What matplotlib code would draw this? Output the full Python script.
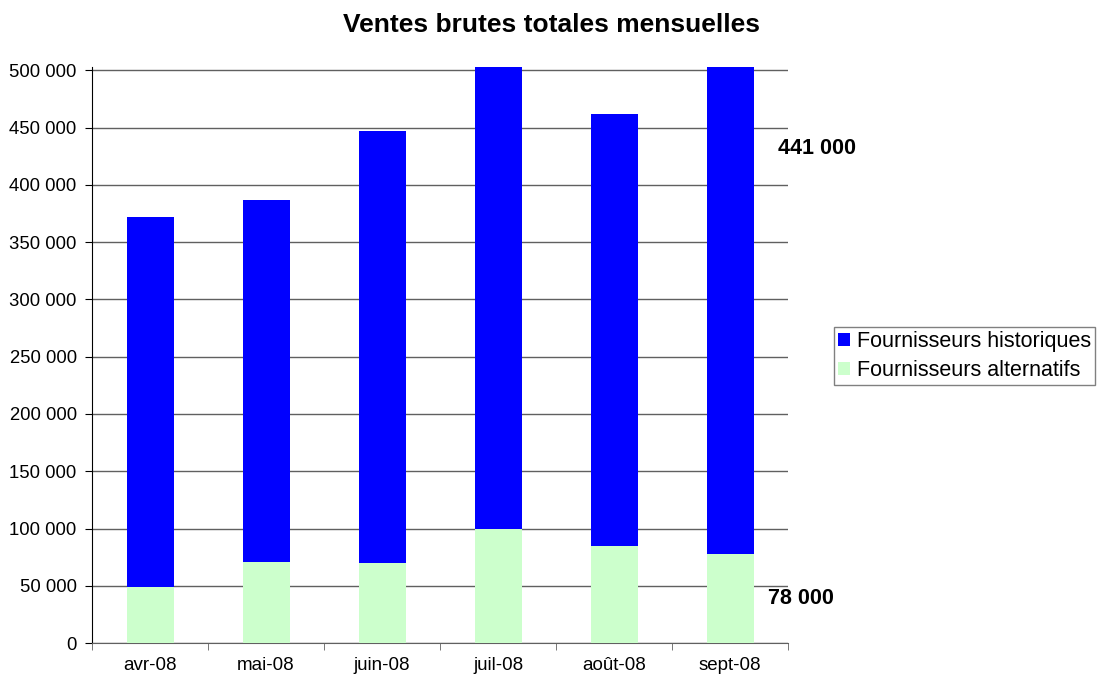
import matplotlib
matplotlib.use("Agg")
import matplotlib.pyplot as plt
from matplotlib.ticker import FuncFormatter

plt.rcParams['font.family'] = ['Liberation Sans', 'DejaVu Sans']

mois = ['avr-08', 'mai-08', 'juin-08', 'juil-08', 'août-08', 'sept-08']
alternatifs = [49000, 71000, 70000, 100000, 85000, 78000]
historiques = [323000, 316000, 377000, 420000, 377000, 441000]

fmt = lambda v: f"{int(v):,}".replace(',', ' ')

fig = plt.figure(figsize=(10.99, 6.77), dpi=100)
ax = fig.add_axes([0.0837, 0.0502, 0.6335, 0.8508])

x = range(len(mois))
w = 0.405
b1 = ax.bar(x, alternatifs, width=w, color='#CCFFCC', zorder=3,
            label='Fournisseurs alternatifs')
b2 = ax.bar(x, historiques, width=w, bottom=alternatifs, color='#0000FF',
            zorder=3, label='Fournisseurs historiques')

ax.set_xlim(-0.5, len(mois) - 0.5)
ax.set_ylim(0, 503000)
ax.set_yticks(range(0, 500001, 50000))
ax.yaxis.set_major_formatter(FuncFormatter(lambda v, p: fmt(v)))
ax.yaxis.grid(True, color='#606060', lw=1, zorder=0)

ax.set_xticks(list(x))
ax.set_xticklabels(mois)
ax.set_xticks([i - 0.5 for i in range(len(mois) + 1)], minor=True)
ax.tick_params(axis='x', which='major', length=0, pad=10, labelsize=13.5)
ax.tick_params(axis='x', which='minor', length=5, direction='out', color='#606060')
ax.tick_params(axis='y', length=5, direction='out', labelsize=13.3, pad=6)

for s in ['top', 'right']:
    ax.spines[s].set_visible(False)
ax.spines['left'].set_color('black')
ax.spines['bottom'].set_color('#606060')

fig.suptitle('Ventes brutes totales mensuelles', fontsize=19, fontweight='bold',
             x=0.502, y=0.963, va='center')

# étiquettes de la dernière barre
ax.text(5.41, 432000, fmt(historiques[-1]), fontsize=15.5, fontweight='bold',
        va='center', ha='left', clip_on=False)
ax.text(5.33, 39000, fmt(alternatifs[-1]), fontsize=15.5, fontweight='bold',
        va='center', ha='left', clip_on=False)

leg = fig.legend(handles=[b2, b1], loc='upper left', bbox_to_anchor=(0.759, 0.517),
                 fontsize=15.5, frameon=True, fancybox=False, edgecolor='#606060',
                 handlelength=0.55, handleheight=0.55, handletextpad=0.3,
                 borderpad=0.2, labelspacing=0.35, borderaxespad=0)
leg.get_frame().set_linewidth(1)

fig.savefig('out.png', dpi=100)
